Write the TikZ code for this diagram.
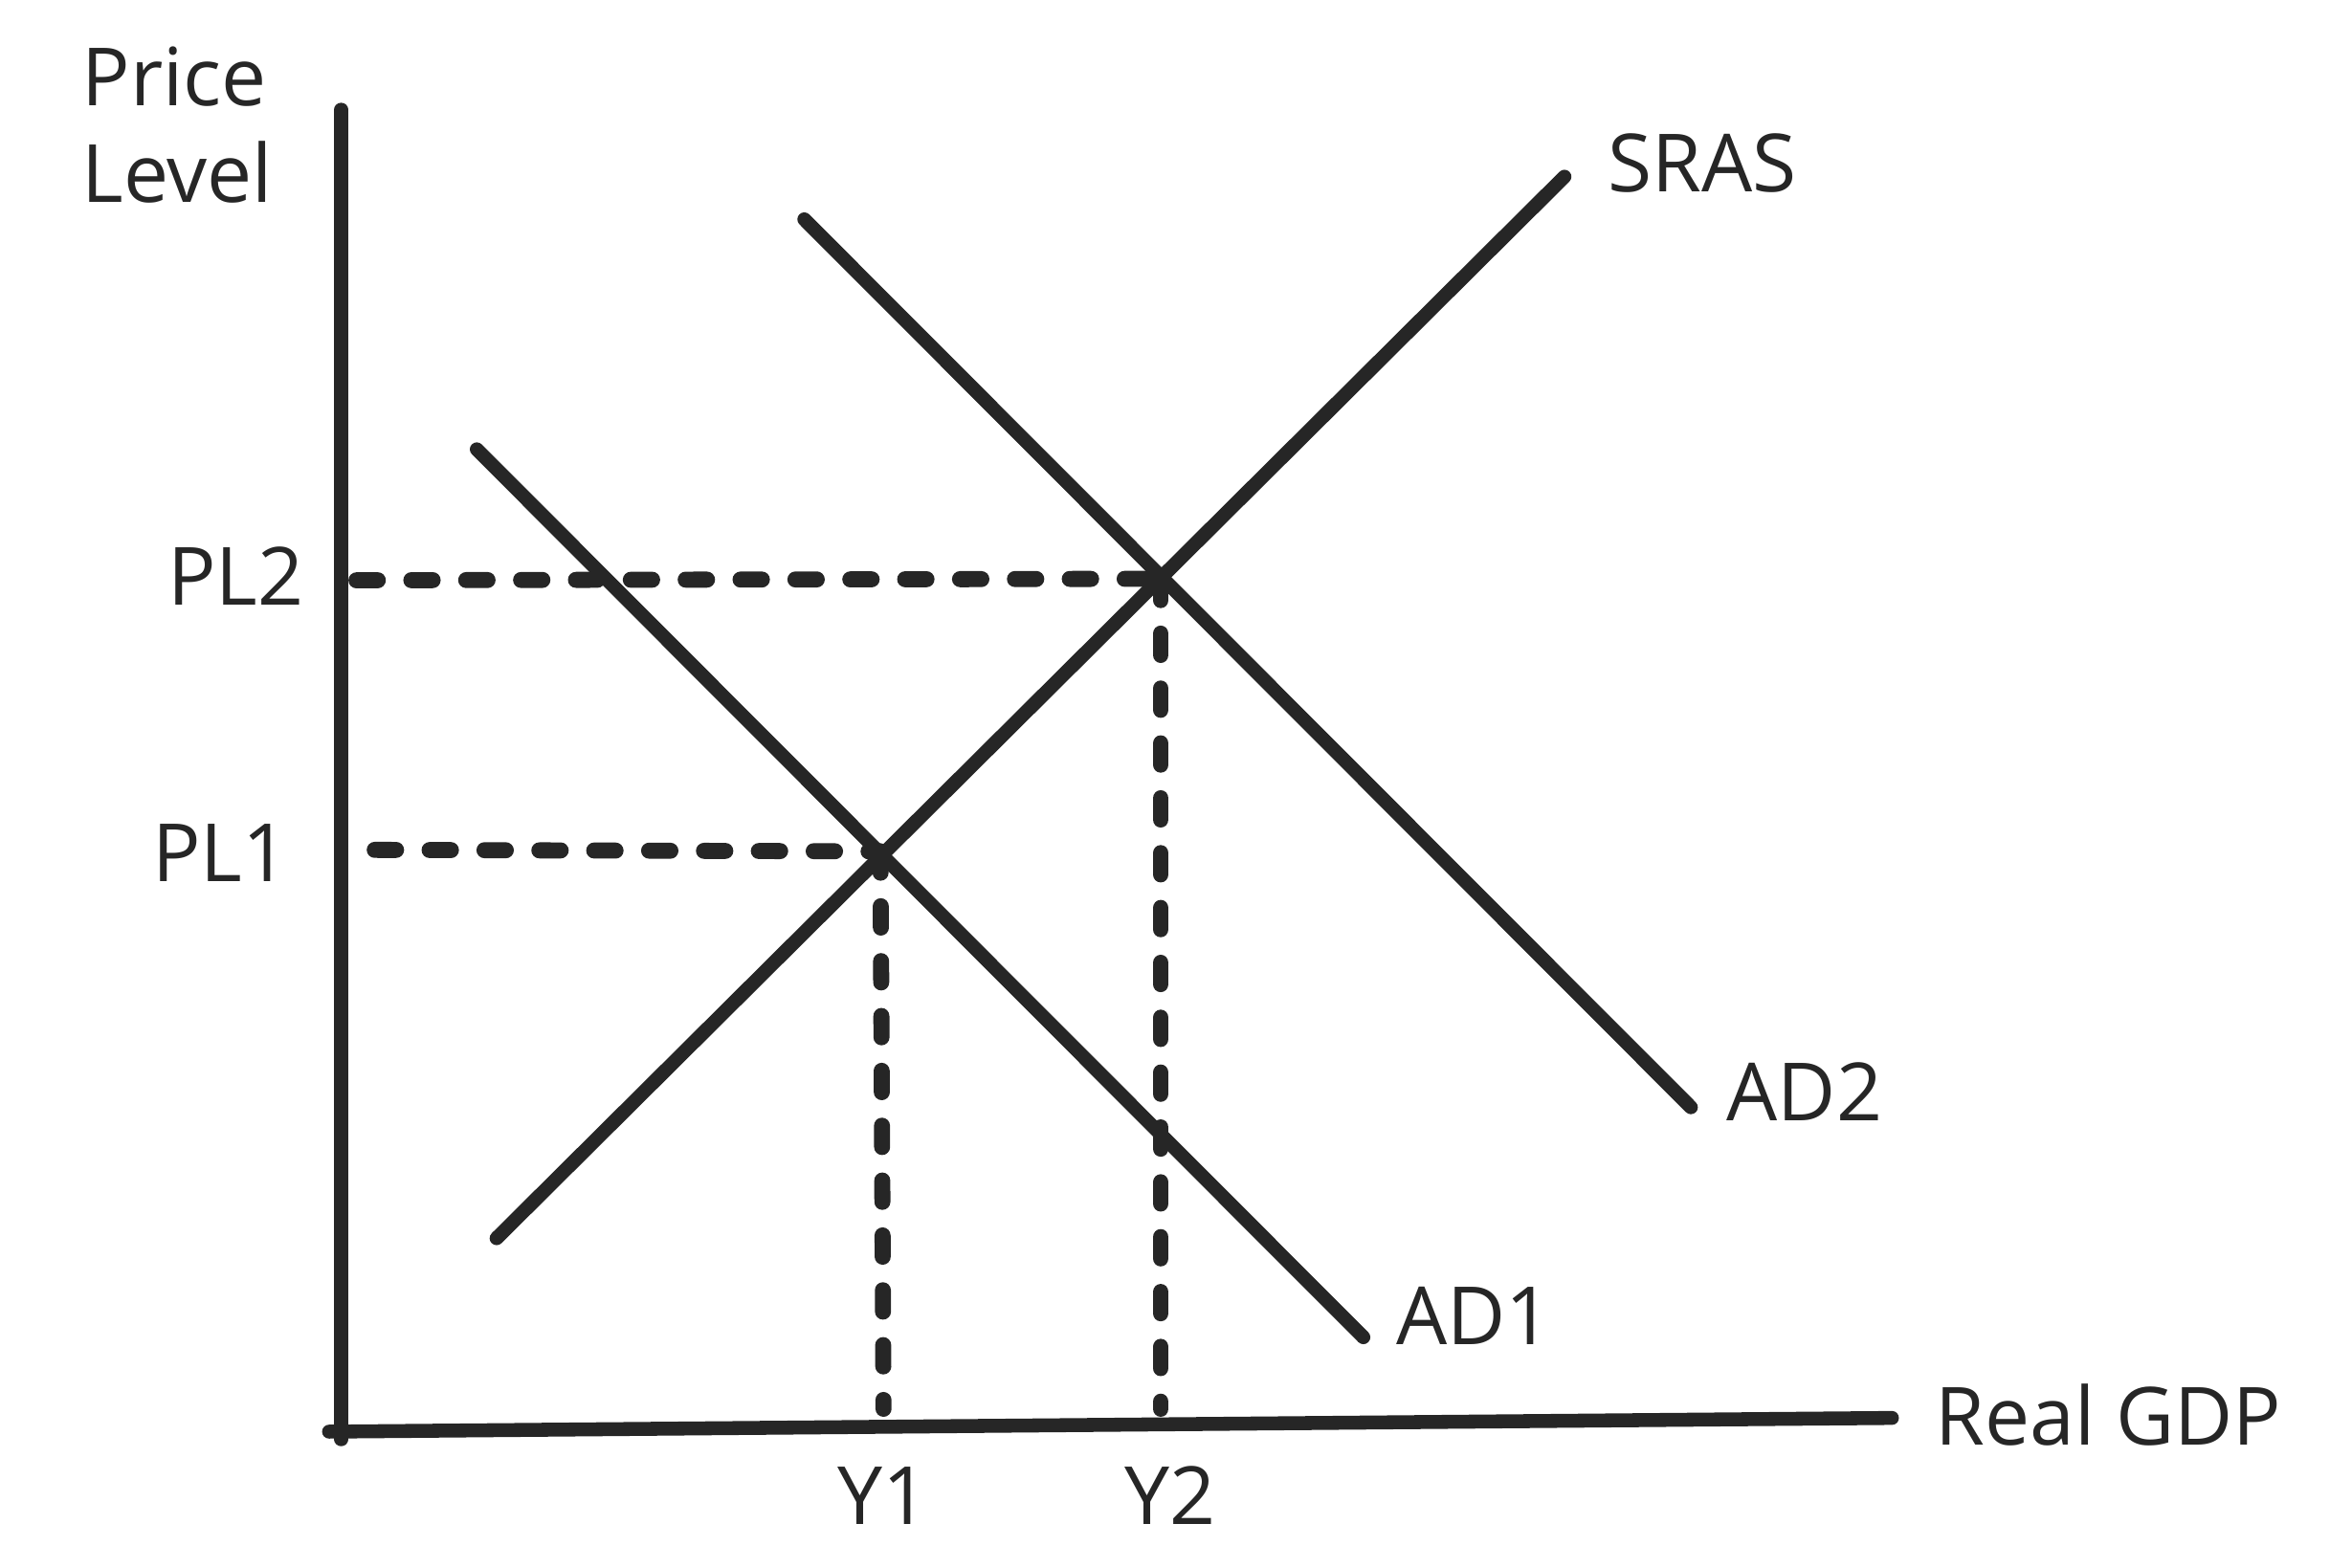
\documentclass[tikz,border=0pt]{standalone}
\usepackage{fontspec}
\setmainfont{Open Sans}
\begin{document}
\begin{tikzpicture}[x=0.01cm,y=-0.01cm,
  curve/.style={line width=2.6pt,line cap=round,color=black!85},
  guide/.style={line width=3pt,line cap=round,color=black!85,dash pattern=on 0.14cm off 0.22cm},
  lbl/.style={font=\fontsize{15pt}{18pt}\selectfont,color=black!85,inner sep=0pt}]
\useasboundingbox (0,0) rectangle (1544,1029);
\coordinate (ytop) at (224,72);
\coordinate (ybot) at (224,945);
\coordinate (xl) at (216,940);
\coordinate (xr) at (1242,931);
\coordinate (s1) at (326,813);
\coordinate (s2) at (1027,116);
\coordinate (a1) at (313,295);
\coordinate (a2) at (895,878);
\coordinate (b1) at (528,144);
\coordinate (b2) at (1110,727);
\coordinate (e2) at (762,380);
\coordinate (e1) at (578,559);
\coordinate (pl2) at (234,381);
\coordinate (pl1) at (246,558);
\coordinate (y1) at (580,925);
\coordinate (y2) at (762,925);
\draw[curve] (ytop) -- (ybot);
\draw[curve] (xl) -- (xr);
\draw[curve] (s1) -- (s2);
\draw[curve] (a1) -- (a2);
\draw[curve] (b1) -- (b2);
\draw[guide] (pl2) -- (e2);
\draw[guide] (e2) -- (y2);
\draw[guide] (pl1) -- (e1);
\draw[guide] (e1) -- (y1);
\node[lbl,align=left,anchor=north west] (plabel) at (53,30) {Price\\Level};
\node[lbl,anchor=east] (tpl2) at (200,378) {PL2};
\node[lbl,anchor=east] (tpl1) at (190,560) {PL1};
\node[lbl,anchor=west] (tsras) at (1055,107) {SRAS};
\node[lbl,anchor=west] (tad2) at (1133,717) {AD2};
\node[lbl,anchor=west] (tad1) at (916,864) {AD1};
\node[lbl,anchor=west] (tgdp) at (1270,929) {Real GDP};
\node[lbl] (ty1) at (580,982) {Y1};
\node[lbl] (ty2) at (768,982) {Y2};
\end{tikzpicture}
\end{document}
